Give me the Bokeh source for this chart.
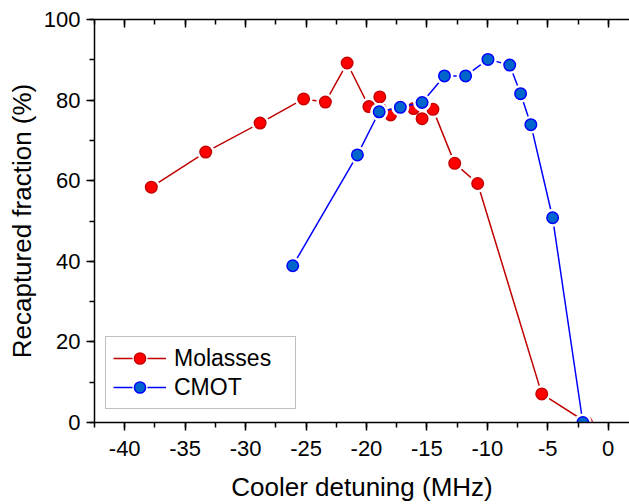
from bokeh.plotting import figure
from bokeh.models import (LinearAxis, SingleIntervalTicker, Range1d, Legend, LegendItem,
                          CustomJSTickFormatter, ColumnDataSource)
from bokeh.embed import file_html
from bokeh.resources import INLINE

# ---- data ----
mol_x = [-37.8, -33.3, -28.8, -25.2, -23.4, -21.6, -19.8, -18.9, -18.0, -16.1, -15.4, -14.5, -12.7, -10.8, -5.5, -1.8]
mol_y = [58.4, 67.1, 74.3, 80.3, 79.5, 89.2, 78.4, 80.8, 76.3, 77.9, 75.4, 77.7, 64.3, 59.3, 7.1, 0.0]

cmot_x = [-26.1, -20.75, -18.95, -17.2, -15.4, -13.55, -11.8, -9.95, -8.15, -7.25, -6.4, -4.6, -2.1]
cmot_y = [38.9, 66.4, 77.1, 78.2, 79.4, 86.0, 86.0, 90.1, 88.7, 81.6, 73.9, 50.8, 0.0]

series_names = ["Molasses", "CMOT"]
x_title = "Cooler detuning (MHz)"
y_title = "Recaptured fraction (%)"

FONT = "Liberation Sans"
NAN = float("nan")

p = figure(width=629, height=504, output_backend="svg", toolbar_location=None,
           x_range=Range1d(-42.5, 1.76), y_range=Range1d(0, 100),
           x_axis_location=None, y_axis_location=None,
           min_border_left=94, min_border_right=0, min_border_top=19, min_border_bottom=82,
           background_fill_color="white", border_fill_color="white")
p.outline_line_color = None
p.grid.visible = False


def style_axis(ax):
    ax.axis_line_color = "black"
    ax.axis_line_width = 1.5
    ax.major_tick_line_color = "black"
    ax.major_tick_line_width = 1.5
    ax.minor_tick_line_color = "black"
    ax.minor_tick_line_width = 1.5
    ax.major_label_text_font = FONT
    ax.major_label_text_font_size = "22px"
    ax.major_label_text_color = "black"
    ax.axis_label_text_font = FONT
    ax.axis_label_text_font_size = "26px"
    ax.axis_label_text_font_style = "normal"
    ax.axis_label_text_color = "black"


xb = LinearAxis(ticker=SingleIntervalTicker(interval=5, num_minor_ticks=2), axis_label=x_title,
                formatter=CustomJSTickFormatter(code="return tick.toString()"))
style_axis(xb)
xb.major_tick_out = 8
xb.major_tick_in = 0
xb.minor_tick_out = 5
xb.minor_tick_in = 0
xb.major_label_standoff = 10
xb.axis_label_standoff = 13
p.add_layout(xb, "below")

yl = LinearAxis(ticker=SingleIntervalTicker(interval=20, num_minor_ticks=2), axis_label=y_title,
                formatter=CustomJSTickFormatter(code="return tick.toString()"))
style_axis(yl)
yl.major_tick_out = 8
yl.major_tick_in = 0
yl.minor_tick_out = 5
yl.minor_tick_in = 0
yl.major_label_standoff = 6
yl.axis_label_standoff = 4
p.add_layout(yl, "left")

xt = LinearAxis(ticker=SingleIntervalTicker(interval=5, num_minor_ticks=2),
                formatter=CustomJSTickFormatter(code="return ''"))
style_axis(xt)
xt.major_label_text_font_size = "0px"
xt.major_label_standoff = 0
xt.major_tick_out = 0
xt.major_tick_in = 8
xt.minor_tick_out = 0
xt.minor_tick_in = 5
p.add_layout(xt, "above")

src_m = ColumnDataSource(dict(x=mol_x, y=mol_y))
src_c = ColumnDataSource(dict(x=cmot_x, y=cmot_y))
# placeholder (NaN) source: only used to draw the legend's line samples
legend_src = ColumnDataSource(dict(x=[NAN, NAN], y=[NAN, NAN]))

rl = p.line("x", "y", source=src_m, line_color="#C00000", line_width=1.5)
rh = p.scatter("x", "y", source=src_m, size=18, fill_color="white", line_color=None)
rm = p.scatter("x", "y", source=src_m, size=11.5, fill_color="#FF0000", line_color="#C80000", line_width=1.5)

bl = p.line("x", "y", source=src_c, line_color="#0000FF", line_width=1.5)
bh = p.scatter("x", "y", source=src_c, size=18, fill_color="white", line_color=None)
bm = p.scatter("x", "y", source=src_c, size=11.5, fill_color="#0066CC", line_color="#0000FF", line_width=1.5)

# legend-only line samples with a gap round the marker
rl_leg = p.line("x", "y", source=legend_src, line_color="#C00000", line_width=1.5, line_dash="19 15")
bl_leg = p.line("x", "y", source=legend_src, line_color="#0000FF", line_width=1.5, line_dash="19 15")

legend = Legend(items=[LegendItem(label=series_names[0], renderers=[rl_leg, rm]),
                       LegendItem(label=series_names[1], renderers=[bl_leg, bm])],
                location=(11, 13))
legend.label_text_font = FONT
legend.label_text_font_size = "23px"
legend.label_text_color = "black"
legend.glyph_width = 53
legend.glyph_height = 28
legend.label_height = 22
legend.label_width = 114
legend.label_standoff = 8
legend.spacing = 1
legend.padding = 7
legend.margin = 0
legend.border_line_color = "#808080"
legend.border_line_width = 1.2
legend.background_fill_color = "white"
legend.background_fill_alpha = 1.0
p.add_layout(legend, "center")

open("out.html", "w").write(file_html(p, INLINE))
